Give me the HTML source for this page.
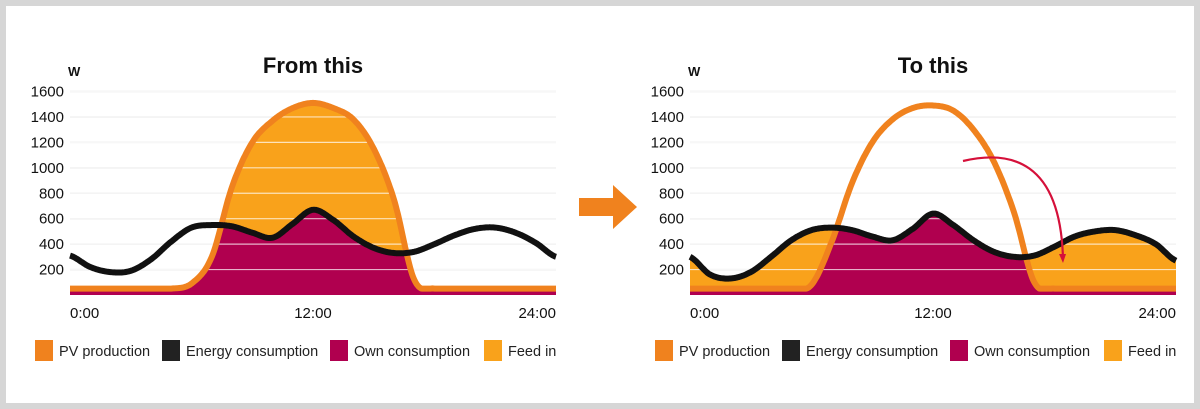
<!DOCTYPE html>
<html><head><meta charset="utf-8"><style>
html,body{margin:0;padding:0;background:#fff;}
#wrap{position:relative;width:1200px;height:409px;box-sizing:border-box;border:6px solid #d6d6d6;background:#fff;overflow:hidden;}
svg{position:absolute;left:-6px;top:-6px;}
text{font-family:"Liberation Sans",sans-serif;}
</style></head><body>
<div id="wrap">
<svg id="svg" width="1200" height="409" xmlns="http://www.w3.org/2000/svg"></svg>
</div>
<script>
// ---- data ----
const hours = [0,1,2,3,4,5,6,7,8,9,10,11,12,13,14,15,16,17,18,19,20,21,22,23,24];
const yTicks = [200,400,600,800,1000,1200,1400,1600];
const xTickLabels = ["0:00","12:00","24:00"];
const xTickHours = [0,12,24];
const legendLabels = ["PV production","Energy consumption","Own consumption","Feed in"];
const leftPV = [50,50,50,50,50,50,90,300,850,1200,1370,1470,1510,1470,1380,1150,750,120,50,50,50,50,50,50,50];
const leftCons = [310,220,180,190,280,420,530,550,540,490,450,560,670,590,460,370,330,340,400,470,520,530,490,410,300];
const rightPV = [50,50,50,50,50,50,80,420,880,1200,1380,1470,1490,1450,1300,1050,650,100,50,50,50,50,50,50,50];
const rightCons = [300,160,130,180,300,430,510,530,510,460,430,520,640,550,430,340,300,310,380,460,500,510,470,400,270];

const NS="http://www.w3.org/2000/svg";
const svg=document.getElementById('svg');
function el(tag,attrs,parent){const e=document.createElementNS(NS,tag);for(const k in attrs)e.setAttribute(k,attrs[k]);(parent||svg).appendChild(e);return e;}
const C={pv:"#f0821e",cons:"#111",own:"#b0004f",feed:"#f9a21b",grid:"#e4e4e4"};

function smooth(xs,ys,n,lo){
  const m=xs.length,out=[];
  for(let i=0;i<m-1;i++){
    const p0=ys[Math.max(0,i-1)],p1=ys[i],p2=ys[i+1],p3=ys[Math.min(m-1,i+2)];
    for(let j=0;j<n;j++){const u=j/n,u2=u*u,u3=u2*u;
      let v=0.5*((2*p1)+(-p0+p2)*u+(2*p0-5*p1+4*p2-p3)*u2+(-p0+3*p1-3*p2+p3)*u3);
      if(lo!==undefined)v=Math.max(lo,v);
      out.push([xs[i]+u*(xs[i+1]-xs[i]),v]);}
  }
  out.push([xs[m-1],ys[m-1]]);return out;
}

function drawChart(x0,x1,title,pv,cons,mode,g){
  const y0=295,k=(295-91.5)/1600;
  const X=h=>x0+(x1-x0)*h/24, Y=v=>y0-v*k;
  yTicks.forEach(v=>{
    const l=el('line',{x1:x0,x2:x1,y1:Y(v),y2:Y(v),stroke:C.grid,'stroke-width':1.5},g);
    
    const t=el('text',{x:x0-6,y:Y(v)+5,'text-anchor':'end','font-size':15,fill:'#111'},g);t.textContent=v;
    
  });
  const pvP=smooth(hours,pv,20,50), cP=smooth(hours,cons,20);
  const mn=pvP.map((p,i)=>[p[0],Math.min(p[1],cP[i][1])]);
  const area=pts=>'M'+X(pts[0][0])+','+y0+' '+pts.map(p=>'L'+X(p[0]).toFixed(1)+','+Y(p[1]).toFixed(1)).join(' ')+' L'+X(24)+','+y0+'Z';
  const line=pts=>'M'+pts.map(p=>X(p[0]).toFixed(1)+','+Y(p[1]).toFixed(1)).join(' L');
  let a=el('path',{d:area(mode==='from'?pvP:cP),fill:C.feed},g);
  
  let o=el('path',{d:area(mn),fill:C.own},g);
  yTicks.forEach(v=>{const l=el('line',{x1:x0,x2:x1,y1:Y(v),y2:Y(v),stroke:'#fff','stroke-opacity':0.7,'stroke-width':1.2},g);
    });
  let p=el('path',{d:line(pvP),fill:'none',stroke:C.pv,'stroke-width':6,'stroke-linejoin':'round'},g);
  
  let c=el('path',{d:line(cP),fill:'none',stroke:C.cons,'stroke-width':6,'stroke-linejoin':'round'},g);
  
  xTickHours.forEach((h,i)=>{const anc=i==0?'start':i==2?'end':'middle';
    const t=el('text',{x:X(h),y:318,'text-anchor':anc,'font-size':15,fill:'#111'},g);t.textContent=xTickLabels[i];
    });
  const tt=el('text',{x:(x0+x1)/2,y:73,'text-anchor':'middle','font-size':22,'font-weight':'bold',fill:'#111'},g);tt.textContent=title;
  
  const w=el('text',{x:x0-2,y:76,'font-size':13,'font-weight':'bold',fill:'#111'},g);w.textContent='W';
  
}
function legend(x,g){
  const cols=[C.pv,"#222",C.own,C.feed];const widths=[127,168,154,70];let cx=x;
  legendLabels.forEach((lab,i)=>{
    const grp=el('g',{},g);
    el('rect',{x:cx,y:340,width:18,height:21,fill:cols[i]},grp);
    const t=el('text',{x:cx+24,y:356,'font-size':14.5,fill:'#222'},grp);t.textContent=lab;
    cx+=widths[i];
  });
}
const gl=el('g',{});
drawChart(70,556,'From this',leftPV,leftCons,'from',gl);legend(35,gl);
const gr=el('g',{});
drawChart(690,1176,'To this',rightPV,rightCons,'to',gr);legend(655,gr);
const ar=el('path',{d:'M579,198 L613,198 L613,185 L637,207 L613,229 L613,216 L579,216 Z',fill:'#f0821e'});

const ra=el('path',{d:'M963,161 C1010,150 1060,160 1063,258',fill:'none',stroke:'#d5103a','stroke-width':2.2});

const rh=el('path',{d:'M1059,254 L1063,263 L1066,254 Z',fill:'#d5103a'});

</script>
</body></html>
